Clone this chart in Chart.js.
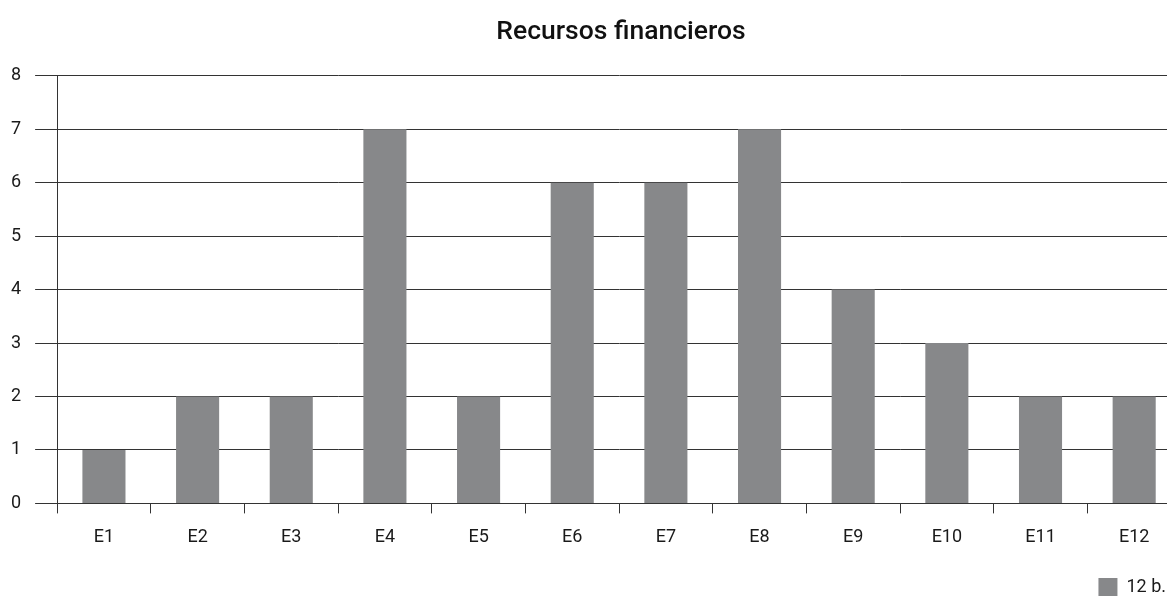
<!DOCTYPE html>
<html>
<head>
<meta charset="utf-8">
<script src="https://cdn.jsdelivr.net/npm/chart.js@4"></script>
<style>
  html, body { margin: 0; padding: 0; background: #fff; overflow: hidden; }
  #wrap { width: 1167px; height: 597px; overflow: hidden; }
</style>
</head>
<body>
<div id="wrap"><canvas id="grafico" width="1181" height="597"></canvas></div>
<script>
const titulo = 'Recursos financieros';
const categorias = ['E1', 'E2', 'E3', 'E4', 'E5', 'E6', 'E7', 'E8', 'E9', 'E10', 'E11', 'E12'];
const serieNome = '12 b.';
const valores = [1, 2, 2, 7, 2, 6, 6, 7, 4, 3, 2, 2];

// legenda e título ajustados à parte visível (a área do gráfico passa um pouco da janela)
const ajustarCaixas = {
    id: 'ajustarCaixas',
    afterLayout(chart) {
        chart.legend.left -= 15;
        chart.legend.right -= 15;
        chart.legend.top += 17;
        chart.legend.bottom += 17;
        chart.titleBlock.left += 32;
        chart.titleBlock.right += 32;
    }
};

Chart.defaults.font.family = 'Roboto, "DejaVu Sans", sans-serif';
Chart.defaults.color = '#1a1a1a';

let ctx = document.getElementById('grafico').getContext('2d');
window.grafico = new Chart(ctx, {
    type: 'bar',
    data: {
        labels: categorias,
        datasets: [{
            label: serieNome,
            data: valores,
            backgroundColor: '#87888a',
            borderWidth: 0,
            barPercentage: 0.46,
            categoryPercentage: 1
        }]
    },
    options: {
        responsive: false,
        animation: false,
        layout: { padding: { left: -3, right: 0, top: 6, bottom: 8 } },
        plugins: {
            title: {
                display: true,
                text: titulo,
                font: { size: 26.5, weight: '500' },
                color: '#111',
                padding: { top: 10, bottom: 28 }
            },
            legend: {
                position: 'bottom',
                align: 'end',
                labels: {
                    boxWidth: 19,
                    boxHeight: 18,
                    font: { size: 18 },
                    color: '#1a1a1a',
                    padding: 0
                }
            },
            tooltip: { enabled: false }
        },
        scales: {
            y: {
                min: 0,
                max: 8,
                ticks: { stepSize: 1, font: { size: 18 }, color: '#1a1a1a', padding: 14 },
                grid: { color: '#333', lineWidth: 1, tickLength: 22 },
                border: { color: '#333', width: 1 }
            },
            x: {
                ticks: { font: { size: 18 }, color: '#1a1a1a', padding: 13 },
                grid: { drawOnChartArea: false, drawTicks: true, tickLength: 10, color: '#333', offset: true },
                border: { color: '#333', width: 1 }
            }
        }
    },
    plugins: [ajustarCaixas]
});
</script>
</body>
</html>
